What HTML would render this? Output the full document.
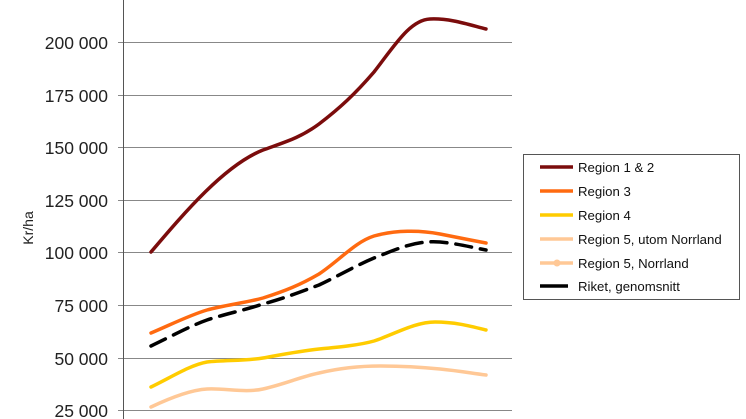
<!DOCTYPE html><html><head><style>body{margin:0;background:#fff}svg{display:block;font-family:"Liberation Sans",sans-serif}</style></head><body>
<svg width="746" height="419" xmlns="http://www.w3.org/2000/svg">
<g stroke="#888" stroke-width="1">
<line x1="118" x2="512" y1="42.5" y2="42.5"/><line x1="118" x2="512" y1="95.5" y2="95.5"/><line x1="118" x2="512" y1="147.5" y2="147.5"/><line x1="118" x2="512" y1="200.5" y2="200.5"/><line x1="118" x2="512" y1="252.5" y2="252.5"/><line x1="118" x2="512" y1="305.5" y2="305.5"/><line x1="118" x2="512" y1="358.5" y2="358.5"/><line x1="118" x2="512" y1="410.5" y2="410.5"/>
</g>
<line x1="123.5" x2="123.5" y1="0" y2="419" stroke="#555"/>
<g font-size="17.5" fill="#222" text-anchor="end">
<text x="108" y="49">200 000</text><text x="108" y="102">175 000</text><text x="108" y="154">150 000</text><text x="108" y="207">125 000</text><text x="108" y="259">100 000</text><text x="108" y="312">75 000</text><text x="108" y="365">50 000</text><text x="108" y="417">25 000</text>
</g>
<text transform="translate(33,228) rotate(-90)" font-size="14" text-anchor="middle" fill="#222">Kr/ha</text>
<g fill="none" stroke-width="3.5" stroke-linecap="round">
<path d="M151,252 C185,212 225,165 263,150 C285,142 300,138 319,124 C340,108 355,94 374,72 C395,45 410,20 430,19 C450,18 470,25 486,29" stroke="#7b0c0c"/>
<path d="M151,333 C170,325 190,315 207,310 C225,305 245,303 263,298 C285,291 300,285 319,274 C340,260 355,242 374,236 C395,230 420,230 440,234 C460,238 470,240 486,243" stroke="#ff6a10"/>
<path d="M151,346 C170,337 190,326 207,320 C225,314 245,310 263,304 C285,298 300,292 319,285 C340,275 355,266 374,258 C395,250 415,240 440,242 C460,244 470,247 486,250" stroke="#000" stroke-dasharray="16,9"/>
<path d="M151,387 C170,378 190,365 207,362 C225,360 245,361 263,358 C285,354 300,351 319,349 C340,347 360,345 374,341 C395,334 415,322 435,322 C455,322 470,326 486,330" stroke="#ffcc00"/>
<path d="M151,407 C170,398 190,390 207,389 C225,388 245,393 263,389 C285,384 300,377 319,373 C340,368 360,366 380,366 C400,366 420,367 440,369 C460,371 470,373 486,375" stroke="#ffc896"/>
</g>
<rect x="523.5" y="154.5" width="216" height="145" fill="#fff" stroke="#555"/>
<g stroke-width="3.5">
<line x1="540" x2="573" y1="167" y2="167" stroke="#7b0c0c"/>
<line x1="540" x2="573" y1="191" y2="191" stroke="#ff6a10"/>
<line x1="540" x2="573" y1="215" y2="215" stroke="#ffcc00"/>
<line x1="540" x2="573" y1="239" y2="239" stroke="#ffc896"/>
<line x1="540" x2="573" y1="263" y2="263" stroke="#ffc896"/>
<line x1="540" x2="568" y1="286" y2="286" stroke="#000"/>
</g>
<circle cx="557" cy="263" r="3.5" fill="#ffc896"/>
<g font-size="13.2" fill="#111">
<text x="578" y="172">Region 1 &amp; 2</text><text x="578" y="196">Region 3</text><text x="578" y="220">Region 4</text><text x="578" y="244">Region 5, utom Norrland</text><text x="578" y="268">Region 5, Norrland</text><text x="578" y="291">Riket, genomsnitt</text>
</g>
</svg></body></html>
